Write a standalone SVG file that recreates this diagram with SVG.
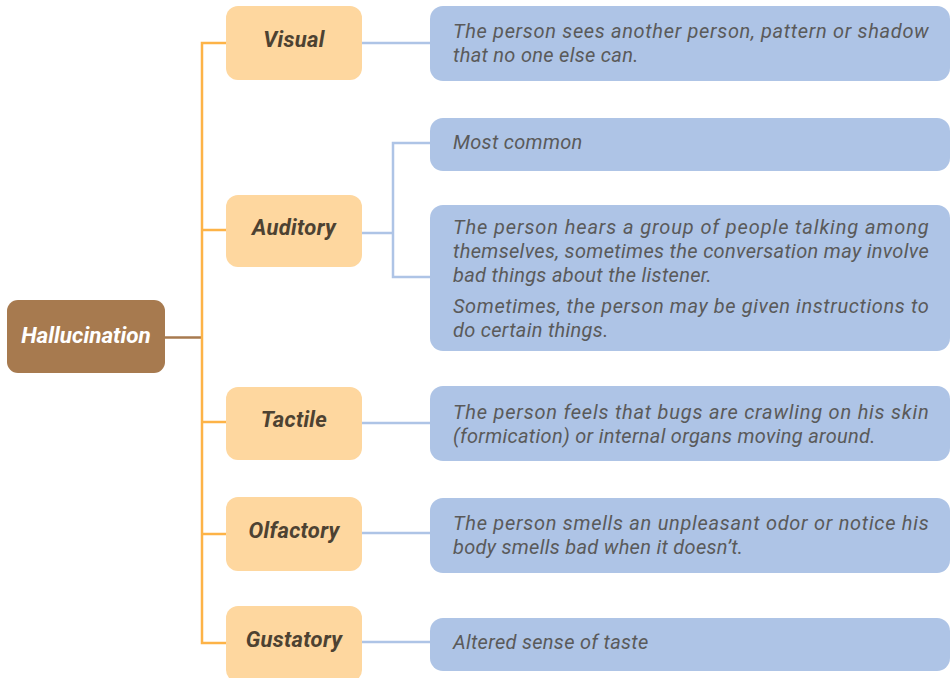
<svg xmlns="http://www.w3.org/2000/svg" width="951" height="678" viewBox="0 0 951 678">
  <style>
    .root rect { fill: #A77A4F; }
    .root text { font-family: Roboto, "Liberation Sans", sans-serif; font-style: italic; font-weight: bold; font-size: 22.5px; fill: #FFFFFF; text-anchor: middle; }
    .cat rect { fill: #FED79F; }
    .cat text { font-family: Roboto, "Liberation Sans", sans-serif; font-style: italic; font-weight: bold; font-size: 22px; letter-spacing: 0.3px; fill: #4D4232; text-anchor: middle; }
    .desc rect { fill: #AEC4E6; }
    .desc text { font-family: Roboto, "Liberation Sans", sans-serif; font-style: italic; font-size: 20px; letter-spacing: 0.3px; fill: #5A5A5A; }
    .trunk { fill: none; stroke: #FDB347; stroke-width: 2.5; }
    .rootlink { fill: none; stroke: #A77A4F; stroke-width: 2.5; }
    .leaf { fill: none; stroke: #AEC4E6; stroke-width: 2.5; }
  </style>

  <g id="connectors">
    <path class="rootlink" d="M165 337.5 H202"/>
    <path class="trunk" d="M226 43 H202 V643 H226 M202 230 H226 M202 422 H226 M202 534 H226"/>
    <path class="leaf" d="M362 43 H430"/>
    <path class="leaf" d="M362 233 H393 M430 143 H393 V277 H430"/>
    <path class="leaf" d="M362 423 H430"/>
    <path class="leaf" d="M362 533 H430"/>
    <path class="leaf" d="M362 642 H430"/>
  </g>

  <g id="hallucination" class="root">
    <rect x="7" y="300" width="158" height="73" rx="11"/>
    <text x="86" y="343">Hallucination</text>
  </g>

  <g id="visual" class="cat">
    <rect x="226" y="6" width="136" height="74" rx="12"/>
    <text x="294" y="47">Visual</text>
  </g>
  <g id="auditory" class="cat">
    <rect x="226" y="195" width="136" height="72" rx="12"/>
    <text x="294" y="235">Auditory</text>
  </g>
  <g id="tactile" class="cat">
    <rect x="226" y="387" width="136" height="73" rx="12"/>
    <text x="294" y="427">Tactile</text>
  </g>
  <g id="olfactory" class="cat">
    <rect x="226" y="497" width="136" height="74" rx="12"/>
    <text x="294" y="538">Olfactory</text>
  </g>
  <g id="gustatory" class="cat">
    <rect x="226" y="606" width="136" height="76" rx="12"/>
    <text x="294" y="647">Gustatory</text>
  </g>

  <g id="visual-desc" class="desc">
    <rect x="430" y="6" width="520" height="75" rx="13"/>
    <text x="453" y="38" textLength="476" lengthAdjust="spacing">The person sees another person, pattern or shadow</text>
    <text x="453" y="62">that no one else can.</text>
  </g>
  <g id="auditory-common" class="desc">
    <rect x="430" y="118" width="520" height="53" rx="13"/>
    <text x="453" y="149">Most common</text>
  </g>
  <g id="auditory-desc" class="desc">
    <rect x="430" y="205" width="520" height="146" rx="13"/>
    <text x="453" y="234" textLength="476" lengthAdjust="spacing">The person hears a group of people talking among</text>
    <text x="453" y="258" textLength="476" lengthAdjust="spacing">themselves, sometimes the conversation may involve</text>
    <text x="453" y="282">bad things about the listener.</text>
    <text x="453" y="313" textLength="476" lengthAdjust="spacing">Sometimes, the person may be given instructions to</text>
    <text x="453" y="337">do certain things.</text>
  </g>
  <g id="tactile-desc" class="desc">
    <rect x="430" y="386" width="520" height="75" rx="13"/>
    <text x="453" y="419" textLength="476" lengthAdjust="spacing">The person feels that bugs are crawling on his skin</text>
    <text x="453" y="443">(formication) or internal organs moving around.</text>
  </g>
  <g id="olfactory-desc" class="desc">
    <rect x="430" y="498" width="520" height="75" rx="13"/>
    <text x="453" y="530" textLength="476" lengthAdjust="spacing">The person smells an unpleasant odor or notice his</text>
    <text x="453" y="554">body smells bad when it doesn’t.</text>
  </g>
  <g id="gustatory-desc" class="desc">
    <rect x="430" y="618" width="520" height="53" rx="13"/>
    <text x="453" y="649">Altered sense of taste</text>
  </g>
</svg>
